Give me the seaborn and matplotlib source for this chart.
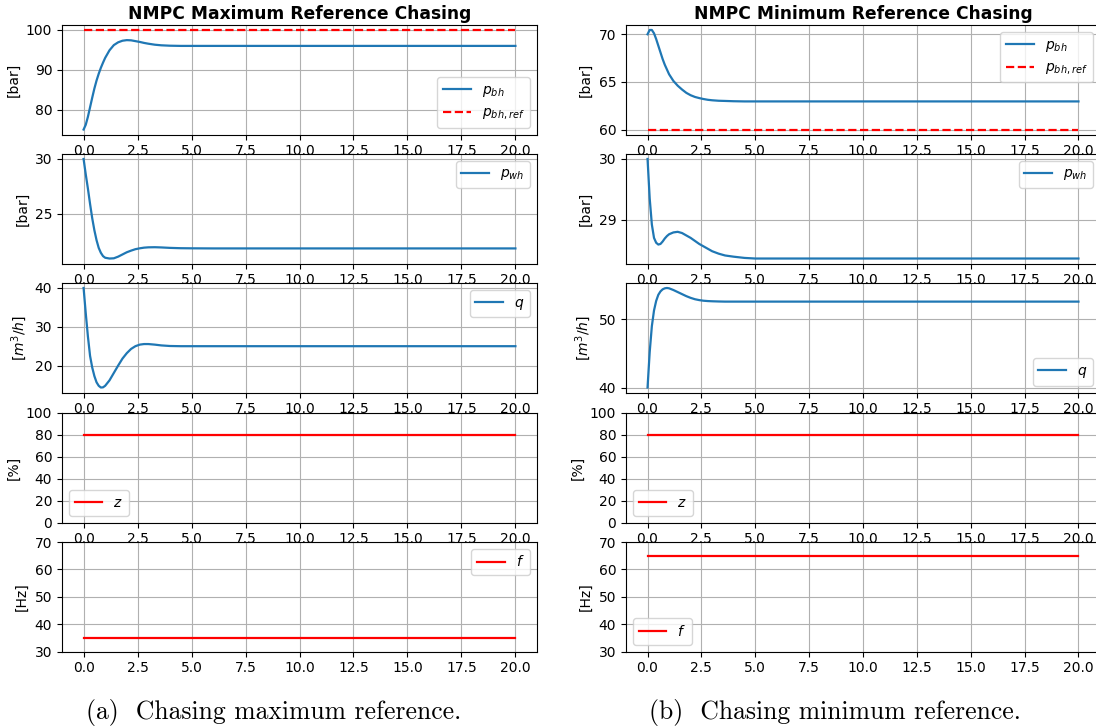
import matplotlib
matplotlib.use("Agg")
import matplotlib.pyplot as plt
import seaborn as sns

# Simulation time samples [s]
t = [0.0, 0.1, 0.2, 0.3, 0.4, 0.5, 0.6, 0.7, 0.8, 0.9, 1.0, 1.2, 1.4, 1.6,
     1.8, 2.0, 2.2, 2.4, 2.6, 2.8, 3.0, 3.3, 3.6, 4.0, 4.5, 5.0, 6.0, 8.0, 20.0]

# --- Maximum reference chasing ---
max_p_bh = [75.0, 76.2, 78.2, 80.6, 83.0, 85.3, 87.3, 89.0, 90.5, 91.8, 93.0,
            94.9, 96.2, 96.9, 97.3, 97.45, 97.4, 97.2, 97.0, 96.75, 96.55,
            96.3, 96.15, 96.05, 96.0, 96.0, 96.0, 96.0, 96.0]
max_p_bh_ref = [100.0] * len(t)
max_p_wh = [30.0, 28.6, 27.3, 25.9, 24.6, 23.5, 22.6, 21.9, 21.45, 21.15, 21.0,
            20.93, 20.95, 21.1, 21.3, 21.5, 21.65, 21.78, 21.86, 21.92, 21.95,
            21.96, 21.94, 21.9, 21.87, 21.86, 21.85, 21.85, 21.85]
max_q = [40.0, 33.5, 27.5, 22.5, 19.5, 17.3, 15.7, 14.8, 14.35, 14.4, 14.8,
         16.2, 18.1, 20.0, 21.8, 23.2, 24.3, 25.0, 25.4, 25.55, 25.55,
         25.4, 25.2, 25.05, 25.0, 25.0, 25.0, 25.0, 25.0]
max_z = [80.0] * len(t)
max_f = [35.0] * len(t)

# --- Minimum reference chasing ---
min_p_bh = [70.0, 70.45, 70.45, 70.1, 69.5, 68.8, 68.1, 67.4, 66.8, 66.3, 65.8,
            65.1, 64.6, 64.2, 63.85, 63.6, 63.42, 63.3, 63.2, 63.12, 63.07,
            63.02, 63.0, 62.97, 62.95, 62.95, 62.95, 62.95, 62.95]
min_p_bh_ref = [60.0] * len(t)
min_p_wh = [30.0, 29.35, 28.92, 28.7, 28.62, 28.59, 28.6, 28.64, 28.69, 28.73,
            28.76, 28.79, 28.8, 28.78, 28.74, 28.7, 28.65, 28.6, 28.56, 28.52,
            28.48, 28.44, 28.41, 28.39, 28.37, 28.36, 28.36, 28.36, 28.36]
min_q = [40.0, 45.2, 49.0, 51.3, 52.7, 53.6, 54.1, 54.4, 54.55, 54.6, 54.55,
         54.3, 54.0, 53.7, 53.4, 53.15, 52.95, 52.82, 52.73, 52.68, 52.65,
         52.62, 52.6, 52.6, 52.6, 52.6, 52.6, 52.6, 52.6]
min_z = [80.0] * len(t)
min_f = [65.0] * len(t)

titles = ["NMPC Maximum Reference Chasing", "NMPC Minimum Reference Chasing"]
captions = ["(a)  Chasing maximum reference.", "(b)  Chasing minimum reference."]
ylabels = ["[bar]", "[bar]", "[$m^3/h$]", "[%]", "[Hz]"]
xticks = [0.0, 2.5, 5.0, 7.5, 10.0, 12.5, 15.0, 17.5, 20.0]

# y tick positions per row, for each column
yticks_max = [[80, 90, 100], [25, 30], [20, 30, 40], [0, 20, 40, 60, 80, 100],
              [30, 40, 50, 60, 70]]
yticks_min = [[60, 65, 70], [29, 30], [40, 50], [0, 20, 40, 60, 80, 100],
              [30, 40, 50, 60, 70]]

BLUE = "#1f77b4"
RED = "red"
FS = 10

plt.rcParams.update({
    "font.size": FS,
    "xtick.labelsize": FS,
    "ytick.labelsize": FS,
    "legend.fontsize": FS,
    "axes.labelsize": FS,
})

W, H = 1096, 728
fig = plt.figure(figsize=(W / 100, H / 100), dpi=100)

# (left edge, width) in pixels for each column; the right column runs off the page edge
col_x = [(62, 475), (626, 474)]
row_top = [25, 154, 283, 413, 542]
row_h = 109.5


def make_ax(col, row):
    x0, w = col_x[col]
    top = row_top[row]
    return fig.add_axes([x0 / W, 1 - (top + row_h) / H, w / W, row_h / H])


columns = [
    {
        "rows": [
            [(max_p_bh, "$p_{bh}$", BLUE, "-"), (max_p_bh_ref, "$p_{bh,ref}$", RED, "--")],
            [(max_p_wh, "$p_{wh}$", BLUE, "-")],
            [(max_q, "$q$", BLUE, "-")],
            [(max_z, "$z$", RED, "-")],
            [(max_f, "$f$", RED, "-")],
        ],
        "yticks": yticks_max,
        "legend": ["lower right", "upper right", "upper right", "lower left", "upper right"],
    },
    {
        "rows": [
            [(min_p_bh, "$p_{bh}$", BLUE, "-"), (min_p_bh_ref, "$p_{bh,ref}$", RED, "--")],
            [(min_p_wh, "$p_{wh}$", BLUE, "-")],
            [(min_q, "$q$", BLUE, "-")],
            [(min_z, "$z$", RED, "-")],
            [(min_f, "$f$", RED, "-")],
        ],
        "yticks": yticks_min,
        "legend": ["upper right", "upper right", "lower right", "lower left", "lower left"],
    },
]

fixed_ylim = {3: (0, 100), 4: (30, 70)}
caption_x = [274, 835]

for c, spec in enumerate(columns):
    for r, series in enumerate(spec["rows"]):
        ax = make_ax(c, r)
        for vals, lab, colr, ls in series:
            sns.lineplot(x=t, y=vals, ax=ax, label=lab, color=colr,
                         linestyle=ls, linewidth=1.6)
        ax.set_xticks(xticks)
        ax.set_xlim(-1.0, 21.0)
        ax.set_yticks(spec["yticks"][r])
        if r in fixed_ylim:
            ax.set_ylim(*fixed_ylim[r])
        ax.grid(True, color="#b0b0b0", linewidth=0.8)
        ax.set_ylabel(ylabels[r])
        ax.legend(loc=spec["legend"][r])
        if r == 0:
            ax.set_title(titles[c], fontsize=12.3, fontweight="bold", pad=4)
    # caption below each column
    fig.text(caption_x[c] / W, 1 - 712 / H, captions[c],
             family="cmr10", fontsize=18.5, ha="center", va="center")

fig.savefig("out.png", dpi=100)
